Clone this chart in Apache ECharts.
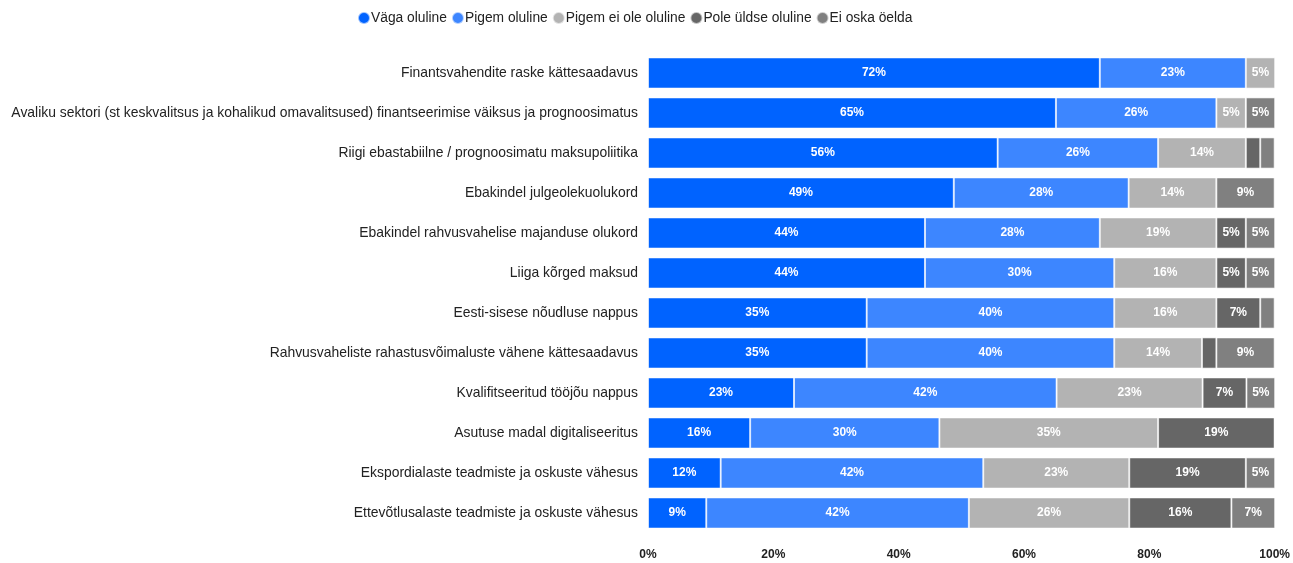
<!DOCTYPE html>
<html>
<head>
<meta charset="utf-8">
<script src="https://cdn.jsdelivr.net/npm/echarts@6/dist/echarts.min.js"></script>
<style>
  html, body { margin: 0; padding: 0; background: #fff; }
  #chart { width: 1293px; height: 563px; }
</style>
</head>
<body>
<div id="chart"></div>
<script>
// kategooriad (ülevalt alla)
var categories = [
    'Finantsvahendite raske kättesaadavus',
    'Avaliku sektori (st keskvalitsus ja kohalikud omavalitsused) finantseerimise väiksus ja prognoosimatus',
    'Riigi ebastabiilne / prognoosimatu maksupoliitika',
    'Ebakindel julgeolekuolukord',
    'Ebakindel rahvusvahelise majanduse olukord',
    'Liiga kõrged maksud',
    'Eesti-sisese nõudluse nappus',
    'Rahvusvaheliste rahastusvõimaluste vähene kättesaadavus',
    'Kvalifitseeritud tööjõu nappus',
    'Asutuse madal digitaliseeritus',
    'Ekspordialaste teadmiste ja oskuste vähesus',
    'Ettevõtlusalaste teadmiste ja oskuste vähesus'
];
var seriesNames = ['Väga oluline', 'Pigem oluline', 'Pigem ei ole oluline', 'Pole üldse oluline', 'Ei oska öelda'];
// protsendid
var vagaOluline   = [72.1, 65.1, 55.8, 48.8, 44.2, 44.2, 34.9, 34.9, 23.3, 16.3, 11.6, 9.3];
var pigemOluline  = [23.3, 25.6, 25.6, 27.9, 27.9, 30.2, 39.5, 39.5, 41.9, 30.2, 41.9, 41.9];
var pigemEiOle    = [4.7, 4.7, 14.0, 14.0, 18.6, 16.3, 16.3, 14.0, 23.3, 34.9, 23.3, 25.6];
var poleUldse     = [0, 0, 2.3, 0, 4.7, 4.7, 7.0, 2.3, 7.0, 18.6, 18.6, 16.3];
var eiOska        = [0, 4.7, 2.3, 9.3, 4.7, 4.7, 2.3, 9.3, 4.7, 0, 4.7, 7.0];
var xTicks = ['0%', '20%', '40%', '60%', '80%', '100%'];

var allData = [vagaOluline, pigemOluline, pigemEiOle, poleUldse, eiOska];
var colors = ['#0063ff', '#3d86ff', '#b3b3b3', '#666666', '#808080'];

var chart = echarts.init(document.getElementById('chart'));

var series = seriesNames.map(function (name, i) {
    return {
        name: name,
        type: 'bar',
        stack: 'total',
        barCategoryGap: '22%',
        data: allData[i],
        itemStyle: {color: colors[i], borderColor: 'rgba(255,255,255,0.6)', borderWidth: 1},
        label: {
            show: true,
            color: '#fff',
            fontWeight: 'bold',
            fontSize: 12,
            fontFamily: 'Liberation Sans',
            formatter: function (p) {
                return p.value >= 3 ? Math.round(p.value) + '%' : '';
            }
        }
    };
});

chart.setOption({
    animation: false,
    textStyle: {fontFamily: 'Liberation Sans'},
    legend: {
        top: 6,
        left: 352,
        icon: 'circle',
        itemWidth: 12,
        itemHeight: 12,
        itemGap: 4,
        textStyle: {fontSize: 13.8, color: '#222', padding: [0, 0, 0, -4]},
        data: seriesNames
    },
    grid: {left: 648, right: 18, top: 53, bottom: 30},
    xAxis: {
        type: 'value',
        min: 0,
        max: 100,
        interval: 20,
        axisLine: {show: false},
        axisTick: {show: false},
        splitLine: {show: false},
        axisLabel: {
            margin: 16,
            fontSize: 12,
            fontWeight: 'bold',
            color: '#222',
            formatter: function (v) { return xTicks[v / 20]; }
        }
    },
    yAxis: {
        type: 'category',
        inverse: true,
        data: categories,
        axisLine: {show: false},
        axisTick: {show: false},
        axisLabel: {fontSize: 13.9, color: '#222', margin: 10}
    },
    series: series
});
</script>
</body>
</html>
